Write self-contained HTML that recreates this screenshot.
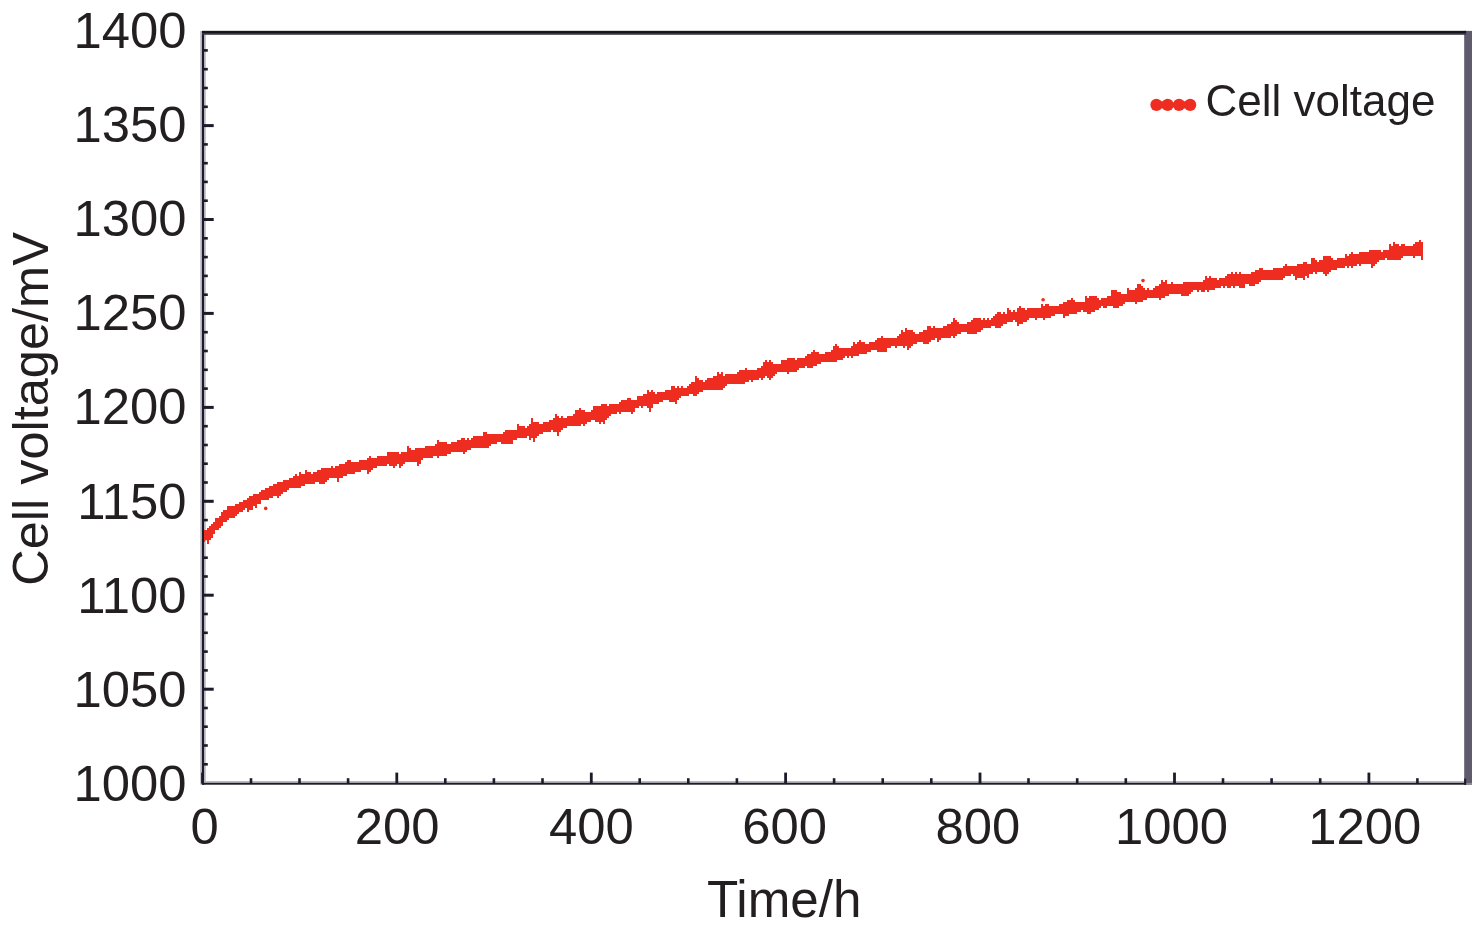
<!DOCTYPE html><html><head><meta charset="utf-8"><title>Cell voltage</title>
<style>html,body{margin:0;padding:0;background:#fff;}svg{display:block;}text{font-family:"Liberation Sans", Arial, Helvetica, sans-serif;fill:#231f20;}</style></head><body>
<svg width="1476" height="933" viewBox="0 0 1476 933">
<rect width="1476" height="933" fill="#fff"/>
<rect x="200.3" y="31" width="5.4" height="753.7" fill="#b3b1bc"/>
<rect x="203" y="781.1" width="1263" height="2" fill="#b3b1bc"/>
<rect x="203.5" y="763.0" width="4.3" height="2.6" fill="#1d1b29"/>
<rect x="203.5" y="744.2" width="4.3" height="2.6" fill="#1d1b29"/>
<rect x="203.5" y="725.4" width="4.3" height="2.6" fill="#1d1b29"/>
<rect x="203.5" y="706.7" width="4.3" height="2.6" fill="#1d1b29"/>
<rect x="203.5" y="687.7" width="10.2" height="3" fill="#1d1b29"/>
<rect x="203.5" y="669.1" width="4.3" height="2.6" fill="#1d1b29"/>
<rect x="203.5" y="650.3" width="4.3" height="2.6" fill="#1d1b29"/>
<rect x="203.5" y="631.5" width="4.3" height="2.6" fill="#1d1b29"/>
<rect x="203.5" y="612.7" width="4.3" height="2.6" fill="#1d1b29"/>
<rect x="203.5" y="593.7" width="10.2" height="3" fill="#1d1b29"/>
<rect x="203.5" y="575.2" width="4.3" height="2.6" fill="#1d1b29"/>
<rect x="203.5" y="556.4" width="4.3" height="2.6" fill="#1d1b29"/>
<rect x="203.5" y="537.6" width="4.3" height="2.6" fill="#1d1b29"/>
<rect x="203.5" y="518.8" width="4.3" height="2.6" fill="#1d1b29"/>
<rect x="203.5" y="499.8" width="10.2" height="3" fill="#1d1b29"/>
<rect x="203.5" y="481.2" width="4.3" height="2.6" fill="#1d1b29"/>
<rect x="203.5" y="462.4" width="4.3" height="2.6" fill="#1d1b29"/>
<rect x="203.5" y="443.7" width="4.3" height="2.6" fill="#1d1b29"/>
<rect x="203.5" y="424.9" width="4.3" height="2.6" fill="#1d1b29"/>
<rect x="203.5" y="405.9" width="10.2" height="3" fill="#1d1b29"/>
<rect x="203.5" y="387.3" width="4.3" height="2.6" fill="#1d1b29"/>
<rect x="203.5" y="368.5" width="4.3" height="2.6" fill="#1d1b29"/>
<rect x="203.5" y="349.7" width="4.3" height="2.6" fill="#1d1b29"/>
<rect x="203.5" y="330.9" width="4.3" height="2.6" fill="#1d1b29"/>
<rect x="203.5" y="311.9" width="10.2" height="3" fill="#1d1b29"/>
<rect x="203.5" y="293.4" width="4.3" height="2.6" fill="#1d1b29"/>
<rect x="203.5" y="274.6" width="4.3" height="2.6" fill="#1d1b29"/>
<rect x="203.5" y="255.8" width="4.3" height="2.6" fill="#1d1b29"/>
<rect x="203.5" y="237.0" width="4.3" height="2.6" fill="#1d1b29"/>
<rect x="203.5" y="218.0" width="10.2" height="3" fill="#1d1b29"/>
<rect x="203.5" y="199.4" width="4.3" height="2.6" fill="#1d1b29"/>
<rect x="203.5" y="180.6" width="4.3" height="2.6" fill="#1d1b29"/>
<rect x="203.5" y="161.9" width="4.3" height="2.6" fill="#1d1b29"/>
<rect x="203.5" y="143.1" width="4.3" height="2.6" fill="#1d1b29"/>
<rect x="203.5" y="124.1" width="10.2" height="3" fill="#1d1b29"/>
<rect x="203.5" y="105.5" width="4.3" height="2.6" fill="#1d1b29"/>
<rect x="203.5" y="86.7" width="4.3" height="2.6" fill="#1d1b29"/>
<rect x="203.5" y="67.9" width="4.3" height="2.6" fill="#1d1b29"/>
<rect x="203.5" y="49.1" width="4.3" height="2.6" fill="#1d1b29"/>
<rect x="201.1" y="772.6" width="2.8" height="11" fill="#1d1b29"/>
<rect x="249.7" y="778.2" width="2.6" height="5.5" fill="#1d1b29"/>
<rect x="298.2" y="778.2" width="2.6" height="5.5" fill="#1d1b29"/>
<rect x="346.8" y="778.2" width="2.6" height="5.5" fill="#1d1b29"/>
<rect x="395.4" y="772.6" width="2.8" height="11" fill="#1d1b29"/>
<rect x="444.0" y="778.2" width="2.6" height="5.5" fill="#1d1b29"/>
<rect x="492.6" y="778.2" width="2.6" height="5.5" fill="#1d1b29"/>
<rect x="541.2" y="778.2" width="2.6" height="5.5" fill="#1d1b29"/>
<rect x="589.9" y="772.6" width="2.8" height="11" fill="#1d1b29"/>
<rect x="638.4" y="778.2" width="2.6" height="5.5" fill="#1d1b29"/>
<rect x="687.0" y="778.2" width="2.6" height="5.5" fill="#1d1b29"/>
<rect x="735.6" y="778.2" width="2.6" height="5.5" fill="#1d1b29"/>
<rect x="784.2" y="772.6" width="2.8" height="11" fill="#1d1b29"/>
<rect x="832.8" y="778.2" width="2.6" height="5.5" fill="#1d1b29"/>
<rect x="881.4" y="778.2" width="2.6" height="5.5" fill="#1d1b29"/>
<rect x="930.0" y="778.2" width="2.6" height="5.5" fill="#1d1b29"/>
<rect x="978.6" y="772.6" width="2.8" height="11" fill="#1d1b29"/>
<rect x="1027.2" y="778.2" width="2.6" height="5.5" fill="#1d1b29"/>
<rect x="1075.9" y="778.2" width="2.6" height="5.5" fill="#1d1b29"/>
<rect x="1124.5" y="778.2" width="2.6" height="5.5" fill="#1d1b29"/>
<rect x="1173.1" y="772.6" width="2.8" height="11" fill="#1d1b29"/>
<rect x="1221.7" y="778.2" width="2.6" height="5.5" fill="#1d1b29"/>
<rect x="1270.3" y="778.2" width="2.6" height="5.5" fill="#1d1b29"/>
<rect x="1318.9" y="778.2" width="2.6" height="5.5" fill="#1d1b29"/>
<rect x="1367.5" y="772.6" width="2.8" height="11" fill="#1d1b29"/>
<rect x="1416.1" y="778.2" width="2.6" height="5.5" fill="#1d1b29"/>
<rect x="1464.7" y="778.2" width="2.6" height="5.5" fill="#1d1b29"/>
<rect x="1464.2" y="30.9" width="7.8" height="753.8" fill="#5f5a6c"/>
<rect x="1466.1" y="782.9" width="5.9" height="1.8" fill="#8d8a96"/>
<rect x="1464.2" y="778.6" width="1.9" height="6.1" fill="#1d1b29"/>
<rect x="202" y="31" width="2" height="753.7" fill="#1d1b29"/>
<rect x="202" y="782.9" width="1264.1" height="1.8" fill="#1d1b29"/>
<rect x="202" y="30.9" width="1264.1" height="3.9" fill="#3a3846"/><rect x="202" y="30.9" width="1264.1" height="2.2" fill="#17161f"/>
<text x="186.4" y="801.0" font-size="50.8" text-anchor="end">1000</text>
<text x="186.4" y="706.9" font-size="50.8" text-anchor="end">1050</text>
<text x="186.4" y="612.7" font-size="50.8" text-anchor="end">1100</text>
<text x="186.4" y="518.6" font-size="50.8" text-anchor="end">1150</text>
<text x="186.4" y="424.4" font-size="50.8" text-anchor="end">1200</text>
<text x="186.4" y="330.3" font-size="50.8" text-anchor="end">1250</text>
<text x="186.4" y="236.2" font-size="50.8" text-anchor="end">1300</text>
<text x="186.4" y="142.0" font-size="50.8" text-anchor="end">1350</text>
<text x="186.4" y="47.9" font-size="50.8" text-anchor="end">1400</text>
<text x="204.6" y="843.9" font-size="50.8" text-anchor="middle">0</text>
<text x="397.2" y="843.9" font-size="50.8" text-anchor="middle">200</text>
<text x="591.4" y="843.9" font-size="50.8" text-anchor="middle">400</text>
<text x="784.6" y="843.9" font-size="50.8" text-anchor="middle">600</text>
<text x="977.8" y="843.9" font-size="50.8" text-anchor="middle">800</text>
<text x="1171.4" y="843.9" font-size="50.8" text-anchor="middle">1000</text>
<text x="1364.8" y="843.9" font-size="50.8" text-anchor="middle">1200</text>
<text x="784.2" y="917.1" font-size="51.2" text-anchor="middle">Time/h</text>
<text transform="translate(48.1,409.0) rotate(-90)" font-size="50.5" text-anchor="middle">Cell voltage/mV</text>
<g fill="#ee2d20">
<circle cx="1156.4" cy="104.9" r="6.05"/>
<circle cx="1167.7" cy="104.9" r="6.05"/>
<circle cx="1179.0" cy="104.9" r="6.05"/>
<circle cx="1190.2" cy="104.9" r="6.05"/>
<rect x="1156.4" y="101.3" width="11.3" height="7.2"/><rect x="1179" y="101.3" width="11.2" height="7.2"/><rect x="1167.4" y="102.6" width="12" height="4.6"/>
</g>
<text x="1205.5" y="115.8" font-size="44">Cell voltage</text>
<path d="M204 530h1V542h-1zM205 530h2V540h-2zM207 528h2V544h-2zM209 526h2V540h-2zM211 524h2V538h-2zM213 522h2V534h-2zM215 518h2V530h-2zM217 518h2V530h-2zM219 516h2V528h-2zM221 512h2V526h-2zM223 510h2V522h-2zM225 510h2V522h-2zM227 506h2V520h-2zM229 506h2V518h-2zM231 506h2V518h-2zM233 506h2V518h-2zM235 504h2V516h-2zM237 504h2V514h-2zM239 502h2V512h-2zM241 502h2V512h-2zM243 500h2V510h-2zM245 500h2V508h-2zM247 498h2V512h-2zM249 496h2V510h-2zM251 496h2V510h-2zM253 494h2V506h-2zM255 494h2V508h-2zM257 494h2V504h-2zM259 492h2V504h-2zM261 490h2V500h-2zM263 490h2V500h-2zM265 488h2V500h-2zM267 488h2V500h-2zM269 486h2V498h-2zM271 486h2V498h-2zM273 484h2V496h-2zM275 484h2V496h-2zM277 482h2V498h-2zM279 482h2V496h-2zM281 482h2V494h-2zM283 480h2V492h-2zM285 480h2V492h-2zM287 480h2V490h-2zM289 478h2V488h-2zM291 478h2V488h-2zM293 476h2V488h-2zM295 474h2V488h-2zM297 476h2V488h-2zM299 472h2V488h-2zM301 474h2V486h-2zM303 474h2V486h-2zM305 470h2V484h-2zM307 472h2V484h-2zM309 472h2V484h-2zM311 474h2V484h-2zM313 472h2V484h-2zM315 472h2V482h-2zM317 470h2V482h-2zM319 470h2V484h-2zM321 468h2V484h-2zM323 468h2V484h-2zM325 468h2V482h-2zM327 468h2V480h-2zM329 468h2V478h-2zM331 466h2V478h-2zM333 468h2V478h-2zM335 466h2V478h-2zM337 466h2V482h-2zM339 464h2V478h-2zM341 464h2V478h-2zM343 464h2V476h-2zM345 462h2V476h-2zM347 460h2V474h-2zM349 460h2V474h-2zM351 462h2V474h-2zM353 462h2V474h-2zM355 462h2V472h-2zM357 462h2V472h-2zM359 460h2V472h-2zM361 460h2V470h-2zM363 460h2V470h-2zM365 460h2V470h-2zM367 458h2V474h-2zM369 456h2V472h-2zM371 458h2V470h-2zM373 458h2V468h-2zM375 458h2V468h-2zM377 456h2V466h-2zM379 456h2V466h-2zM381 456h2V466h-2zM383 456h2V466h-2zM385 456h2V466h-2zM387 452h2V464h-2zM389 452h2V466h-2zM391 452h2V466h-2zM393 452h2V468h-2zM395 452h2V466h-2zM397 452h2V464h-2zM399 454h2V468h-2zM401 452h2V466h-2zM403 452h2V464h-2zM405 452h2V462h-2zM407 446h2V462h-2zM409 448h2V462h-2zM411 450h2V462h-2zM413 450h2V462h-2zM415 448h2V462h-2zM417 448h2V466h-2zM419 448h2V464h-2zM421 448h2V460h-2zM423 448h2V458h-2zM425 446h2V458h-2zM427 446h2V458h-2zM429 446h2V458h-2zM431 446h2V458h-2zM433 446h2V456h-2zM435 444h2V456h-2zM437 440h2V458h-2zM439 442h2V456h-2zM441 442h2V456h-2zM443 442h2V456h-2zM445 442h2V456h-2zM447 444h2V454h-2zM449 444h2V454h-2zM451 442h2V452h-2zM453 442h2V452h-2zM455 442h2V452h-2zM457 440h2V452h-2zM459 440h2V452h-2zM461 438h2V452h-2zM463 438h2V454h-2zM465 440h2V452h-2zM467 438h2V450h-2zM469 440h2V450h-2zM471 438h2V448h-2zM473 436h2V448h-2zM475 436h2V448h-2zM477 436h2V448h-2zM479 436h2V448h-2zM481 436h2V448h-2zM483 432h2V448h-2zM485 432h2V448h-2zM487 434h2V448h-2zM489 434h2V446h-2zM491 434h2V444h-2zM493 434h2V444h-2zM495 434h2V444h-2zM497 434h2V442h-2zM499 434h2V442h-2zM501 434h2V444h-2zM503 432h2V444h-2zM505 430h2V444h-2zM507 430h2V444h-2zM509 430h2V444h-2zM511 430h2V444h-2zM513 430h2V440h-2zM515 430h2V440h-2zM517 424h2V438h-2zM519 426h2V438h-2zM521 426h2V438h-2zM523 426h2V438h-2zM525 428h2V438h-2zM527 426h2V436h-2zM529 424h2V440h-2zM531 418h2V438h-2zM533 422h2V442h-2zM535 422h2V438h-2zM537 422h2V436h-2zM539 424h2V434h-2zM541 424h2V434h-2zM543 422h2V432h-2zM545 422h2V432h-2zM547 422h2V432h-2zM549 420h2V432h-2zM551 420h2V430h-2zM553 418h2V432h-2zM555 414h2V432h-2zM557 416h2V436h-2zM559 418h2V432h-2zM561 416h2V430h-2zM563 418h2V428h-2zM565 418h2V428h-2zM567 416h2V426h-2zM569 416h2V426h-2zM571 416h2V426h-2zM573 414h2V426h-2zM575 410h2V426h-2zM577 410h2V426h-2zM579 408h2V426h-2zM581 410h2V424h-2zM583 410h2V426h-2zM585 412h2V424h-2zM587 412h2V422h-2zM589 412h2V422h-2zM591 410h2V420h-2zM593 406h2V420h-2zM595 406h2V422h-2zM597 406h2V422h-2zM599 406h2V424h-2zM601 404h2V422h-2zM603 404h2V424h-2zM605 404h2V420h-2zM607 406h2V418h-2zM609 404h2V416h-2zM611 404h2V414h-2zM613 404h2V414h-2zM615 404h2V414h-2zM617 404h2V412h-2zM619 402h2V414h-2zM621 400h2V412h-2zM623 400h2V412h-2zM625 400h2V412h-2zM627 398h2V412h-2zM629 398h2V412h-2zM631 400h2V414h-2zM633 400h2V412h-2zM635 400h2V408h-2zM637 396h2V408h-2zM639 396h2V406h-2zM641 396h2V408h-2zM643 394h2V406h-2zM645 394h2V406h-2zM647 390h2V408h-2zM649 392h2V412h-2zM651 390h2V408h-2zM653 392h2V404h-2zM655 394h2V404h-2zM657 392h2V404h-2zM659 392h2V402h-2zM661 392h2V402h-2zM663 392h2V400h-2zM665 390h2V400h-2zM667 390h2V400h-2zM669 390h2V402h-2zM671 386h2V402h-2zM673 386h2V402h-2zM675 388h2V404h-2zM677 386h2V400h-2zM679 388h2V398h-2zM681 386h2V396h-2zM683 388h2V396h-2zM685 388h2V396h-2zM687 386h2V396h-2zM689 384h2V394h-2zM691 382h2V394h-2zM693 382h2V396h-2zM695 376h2V396h-2zM697 378h2V394h-2zM699 380h2V392h-2zM701 380h2V392h-2zM703 382h2V390h-2zM705 380h2V390h-2zM707 378h2V390h-2zM709 378h2V390h-2zM711 378h2V390h-2zM713 376h2V390h-2zM715 376h2V390h-2zM717 372h2V390h-2zM719 374h2V390h-2zM721 372h2V390h-2zM723 376h2V388h-2zM725 374h2V386h-2zM727 374h2V384h-2zM729 374h2V384h-2zM731 374h2V384h-2zM733 374h2V384h-2zM735 374h2V384h-2zM737 372h2V384h-2zM739 370h2V384h-2zM741 370h2V384h-2zM743 370h2V384h-2zM745 368h2V382h-2zM747 370h2V382h-2zM749 370h2V380h-2zM751 370h2V382h-2zM753 370h2V380h-2zM755 370h2V380h-2zM757 368h2V380h-2zM759 368h2V378h-2zM761 366h2V380h-2zM763 362h2V378h-2zM765 360h2V376h-2zM767 362h2V378h-2zM769 360h2V380h-2zM771 362h2V378h-2zM773 364h2V376h-2zM775 364h2V374h-2zM777 364h2V372h-2zM779 364h2V372h-2zM781 360h2V372h-2zM783 360h2V372h-2zM785 360h2V372h-2zM787 358h2V374h-2zM789 358h2V372h-2zM791 358h2V372h-2zM793 358h2V372h-2zM795 360h2V372h-2zM797 358h2V370h-2zM799 358h2V368h-2zM801 358h2V368h-2zM803 358h2V368h-2zM805 356h2V366h-2zM807 354h2V368h-2zM809 354h2V368h-2zM811 352h2V368h-2zM813 350h2V366h-2zM815 352h2V366h-2zM817 352h2V364h-2zM819 354h2V364h-2zM821 354h2V362h-2zM823 354h2V362h-2zM825 352h2V362h-2zM827 352h2V362h-2zM829 352h2V362h-2zM831 350h2V362h-2zM833 346h2V362h-2zM835 344h2V362h-2zM837 346h2V360h-2zM839 348h2V360h-2zM841 348h2V360h-2zM843 348h2V358h-2zM845 348h2V356h-2zM847 348h2V358h-2zM849 348h2V356h-2zM851 346h2V358h-2zM853 342h2V356h-2zM855 344h2V356h-2zM857 342h2V356h-2zM859 340h2V354h-2zM861 342h2V354h-2zM863 342h2V354h-2zM865 344h2V354h-2zM867 344h2V352h-2zM869 342h2V352h-2zM871 342h2V350h-2zM873 342h2V350h-2zM875 340h2V350h-2zM877 338h2V352h-2zM879 338h2V352h-2zM881 336h2V352h-2zM883 338h2V352h-2zM885 338h2V352h-2zM887 338h2V348h-2zM889 338h2V348h-2zM891 338h2V346h-2zM893 338h2V346h-2zM895 338h2V348h-2zM897 336h2V346h-2zM899 334h2V346h-2zM901 330h2V346h-2zM903 332h2V348h-2zM905 328h2V346h-2zM907 330h2V350h-2zM909 330h2V348h-2zM911 330h2V346h-2zM913 332h2V344h-2zM915 334h2V344h-2zM917 334h2V342h-2zM919 332h2V342h-2zM921 332h2V342h-2zM923 330h2V344h-2zM925 330h2V344h-2zM927 326h2V344h-2zM929 326h2V342h-2zM931 328h2V340h-2zM933 326h2V340h-2zM935 328h2V338h-2zM937 328h2V342h-2zM939 328h2V340h-2zM941 328h2V338h-2zM943 326h2V338h-2zM945 326h2V338h-2zM947 324h2V338h-2zM949 324h2V338h-2zM951 322h2V336h-2zM953 318h2V338h-2zM955 320h2V336h-2zM957 322h2V334h-2zM959 324h2V334h-2zM961 324h2V332h-2zM963 324h2V332h-2zM965 324h2V332h-2zM967 322h2V334h-2zM969 322h2V334h-2zM971 320h2V334h-2zM973 318h2V334h-2zM975 318h2V334h-2zM977 318h2V332h-2zM979 318h2V332h-2zM981 320h2V330h-2zM983 318h2V328h-2zM985 320h2V328h-2zM987 318h2V328h-2zM989 320h2V328h-2zM991 318h2V326h-2zM993 316h2V326h-2zM995 314h2V328h-2zM997 312h2V328h-2zM999 312h2V328h-2zM1001 314h2V326h-2zM1003 312h2V324h-2zM1005 314h2V324h-2zM1007 308h2V322h-2zM1009 310h2V322h-2zM1011 312h2V322h-2zM1013 310h2V320h-2zM1015 312h2V322h-2zM1017 308h2V326h-2zM1019 306h2V324h-2zM1021 308h2V324h-2zM1023 308h2V322h-2zM1025 310h2V322h-2zM1027 308h2V320h-2zM1029 308h2V318h-2zM1031 308h2V318h-2zM1033 308h2V318h-2zM1035 308h2V320h-2zM1037 308h2V318h-2zM1039 308h2V318h-2zM1041 304h2V318h-2zM1043 306h2V320h-2zM1045 304h2V318h-2zM1047 304h2V318h-2zM1049 306h2V318h-2zM1051 306h2V316h-2zM1053 306h2V316h-2zM1055 306h2V314h-2zM1057 306h2V314h-2zM1059 304h2V314h-2zM1061 304h2V314h-2zM1063 302h2V318h-2zM1065 302h2V316h-2zM1067 300h2V316h-2zM1069 300h2V314h-2zM1071 298h2V314h-2zM1073 300h2V314h-2zM1075 302h2V314h-2zM1077 302h2V312h-2zM1079 302h2V312h-2zM1081 302h2V310h-2zM1083 302h2V312h-2zM1085 296h2V312h-2zM1087 298h2V314h-2zM1089 296h2V314h-2zM1091 296h2V312h-2zM1093 296h2V312h-2zM1095 296h2V310h-2zM1097 298h2V310h-2zM1099 300h2V308h-2zM1101 298h2V306h-2zM1103 298h2V308h-2zM1105 298h2V308h-2zM1107 296h2V306h-2zM1109 296h2V306h-2zM1111 290h2V306h-2zM1113 290h2V308h-2zM1115 290h2V308h-2zM1117 292h2V308h-2zM1119 292h2V306h-2zM1121 294h2V306h-2zM1123 294h2V304h-2zM1125 294h2V302h-2zM1127 288h2V302h-2zM1129 290h2V302h-2zM1131 290h2V302h-2zM1133 290h2V302h-2zM1135 288h2V304h-2zM1137 284h2V302h-2zM1139 284h2V302h-2zM1141 286h2V302h-2zM1143 288h2V300h-2zM1145 290h2V300h-2zM1147 288h2V298h-2zM1149 290h2V298h-2zM1151 290h2V298h-2zM1153 288h2V298h-2zM1155 286h2V298h-2zM1157 286h2V298h-2zM1159 284h2V300h-2zM1161 280h2V298h-2zM1163 282h2V298h-2zM1165 280h2V296h-2zM1167 284h2V296h-2zM1169 284h2V294h-2zM1171 282h2V294h-2zM1173 284h2V294h-2zM1175 284h2V294h-2zM1177 284h2V294h-2zM1179 284h2V294h-2zM1181 284h2V296h-2zM1183 282h2V296h-2zM1185 282h2V296h-2zM1187 282h2V296h-2zM1189 282h2V294h-2zM1191 282h2V292h-2zM1193 282h2V290h-2zM1195 282h2V290h-2zM1197 282h2V292h-2zM1199 282h2V290h-2zM1201 282h2V292h-2zM1203 280h2V292h-2zM1205 276h2V290h-2zM1207 278h2V292h-2zM1209 276h2V290h-2zM1211 278h2V290h-2zM1213 278h2V290h-2zM1215 278h2V288h-2zM1217 280h2V288h-2zM1219 278h2V288h-2zM1221 278h2V286h-2zM1223 278h2V288h-2zM1225 276h2V286h-2zM1227 274h2V288h-2zM1229 274h2V288h-2zM1231 272h2V286h-2zM1233 274h2V288h-2zM1235 272h2V286h-2zM1237 274h2V286h-2zM1239 272h2V288h-2zM1241 274h2V288h-2zM1243 274h2V288h-2zM1245 274h2V284h-2zM1247 274h2V284h-2zM1249 274h2V286h-2zM1251 272h2V286h-2zM1253 272h2V286h-2zM1255 270h2V284h-2zM1257 270h2V284h-2zM1259 268h2V282h-2zM1261 268h2V280h-2zM1263 270h2V280h-2zM1265 270h2V280h-2zM1267 270h2V280h-2zM1269 270h2V280h-2zM1271 270h2V280h-2zM1273 268h2V280h-2zM1275 268h2V280h-2zM1277 268h2V280h-2zM1279 268h2V280h-2zM1281 268h2V280h-2zM1283 266h2V278h-2zM1285 264h2V276h-2zM1287 266h2V276h-2zM1289 266h2V276h-2zM1291 266h2V274h-2zM1293 266h2V276h-2zM1295 266h2V280h-2zM1297 264h2V278h-2zM1299 264h2V278h-2zM1301 264h2V278h-2zM1303 262h2V280h-2zM1305 262h2V276h-2zM1307 264h2V278h-2zM1309 264h2V274h-2zM1311 258h2V274h-2zM1313 258h2V272h-2zM1315 260h2V274h-2zM1317 262h2V272h-2zM1319 260h2V272h-2zM1321 260h2V272h-2zM1323 256h2V274h-2zM1325 256h2V276h-2zM1327 256h2V274h-2zM1329 256h2V272h-2zM1331 258h2V270h-2zM1333 260h2V270h-2zM1335 260h2V270h-2zM1337 258h2V268h-2zM1339 258h2V268h-2zM1341 258h2V268h-2zM1343 258h2V268h-2zM1345 254h2V266h-2zM1347 256h2V268h-2zM1349 254h2V266h-2zM1351 252h2V268h-2zM1353 254h2V266h-2zM1355 254h2V266h-2zM1357 254h2V264h-2zM1359 252h2V266h-2zM1361 252h2V264h-2zM1363 252h2V264h-2zM1365 252h2V264h-2zM1367 252h2V264h-2zM1369 250h2V264h-2zM1371 250h2V268h-2zM1373 250h2V266h-2zM1375 250h2V264h-2zM1377 250h2V262h-2zM1379 250h2V260h-2zM1381 252h2V260h-2zM1383 250h2V260h-2zM1385 250h2V258h-2zM1387 250h2V260h-2zM1389 244h2V260h-2zM1391 246h2V260h-2zM1393 242h2V260h-2zM1395 244h2V260h-2zM1397 244h2V260h-2zM1399 246h2V260h-2zM1401 244h2V258h-2zM1403 244h2V256h-2zM1405 246h2V256h-2zM1407 246h2V256h-2zM1409 246h2V256h-2zM1411 246h2V256h-2zM1413 244h2V258h-2zM1415 242h2V256h-2zM1417 242h2V256h-2zM1419 240h2V256h-2zM1421 242h2V260h-2z" fill="#ee2d20" shape-rendering="crispEdges"/>
<circle cx="265.7" cy="508.4" r="1.8" fill="#ee2d20"/>
<circle cx="1043.1" cy="299.7" r="1.8" fill="#ee2d20"/>
<circle cx="1143.0" cy="280.6" r="1.8" fill="#ee2d20"/>
</svg></body></html>
